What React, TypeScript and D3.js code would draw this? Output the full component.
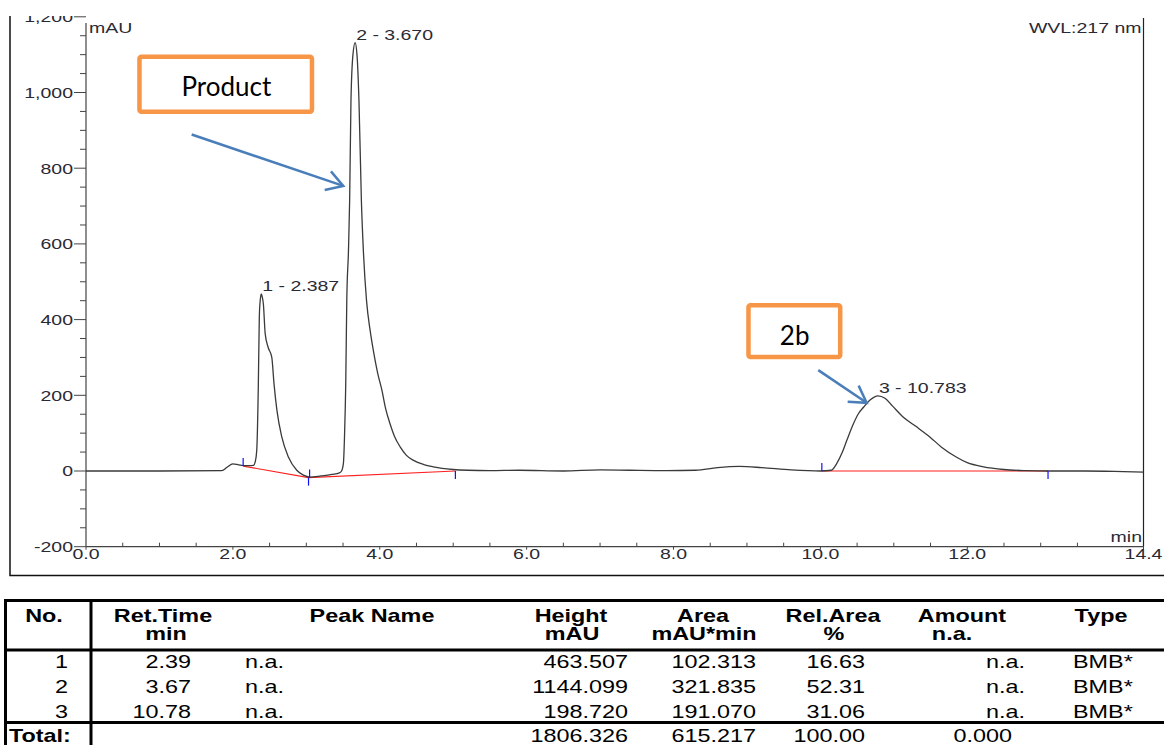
import React from "react";
import * as d3 from "d3";

// Chromatogram trace (time in min, signal in mAU)
const traceTime = [
  0, 1.0, 1.85, 1.92, 2.0, 2.08, 2.14, 2.22, 2.28, 2.305, 2.325, 2.347, 2.36, 2.372, 2.387, 2.4, 2.415,
  2.44, 2.48, 2.53, 2.56, 2.6, 2.666, 2.756, 2.87, 2.96, 3.05, 3.2, 3.35, 3.45, 3.48, 3.505, 3.52, 3.537,
  3.551, 3.574, 3.59, 3.608, 3.635, 3.665, 3.69, 3.717, 3.75, 3.777, 3.82, 3.87, 3.913, 3.97, 4.03, 4.08,
  4.14, 4.2, 4.28, 4.36, 4.46, 4.6, 4.73, 4.85, 5.0, 5.2, 5.5, 5.9, 6.5, 7.0, 7.4, 7.9, 8.3, 8.6, 8.9, 9.2,
  9.6, 10.0, 10.15, 10.22, 10.3, 10.36, 10.45, 10.52, 10.59, 10.68, 10.783, 10.88, 10.98, 11.13, 11.3,
  11.49, 11.65, 11.85, 12.0, 12.22, 12.5, 12.8, 13.1, 13.6, 14.0, 14.4,
];
const traceMAU = [
  0, 0, 1, 10, 19, 16, 14, 14, 15, 25, 55, 231, 406, 450, 468, 460, 442,
  363, 327, 300, 231, 160, 90, 37, 2, -11, -16, -13, -9, -5, 0, 20, 90, 231,
  450, 582, 714, 978, 1100, 1132, 1100, 978, 714, 582, 450, 370, 318, 260, 213, 165,
  125, 92, 63, 42, 28, 17, 11, 7, 4, 2, 1, 2, 0, 3, 2, 1, 2, 9, 12, 9,
  3, 0, 2, 19, 50, 81, 125, 152, 169, 188, 198.7, 192, 172, 142, 118,
  90, 63, 37, 22, 11, 4, 1, 0, 0, -1, -3,
];

// peak labels
const peakLabels = ["1 - 2.387", "2 - 3.670", "3 - 10.783"];
const peakTime = [2.387, 3.665, 10.783];
const peakApex = [468, 1132, 198.7];

// integration baselines (red) and delimiters (blue)
const baselineTime = [[2.14, 3.03, 5.03], [10.02, 13.1]];
const baselineMAU = [[13, -17.5, 0], [0, 0]];
const delimTime = [2.14, 3.045, 3.03, 5.03, 10.02, 13.1];
const delimMAU = [13, -17, -17.5, 0, 0, 0];
const delimDir = [-1, -1, 1, 1, -1, 1];

// axes
const yTicks = [-200, 0, 200, 400, 600, 800, 1000, 1200];
const yTickLabels = ["-200", "0", "200", "400", "600", "800", "1,000", "1,200"];
const xTicks = [0, 2, 4, 6, 8, 10, 12, 14.4];
const xTickLabels = ["0.0", "2.0", "4.0", "6.0", "8.0", "10.0", "12.0", "14.4"];

// callouts (data coordinates)
const calloutText = ["Product", "2b"];
const calloutBox = [[0.728, 1094.6, 3.077, 949.3], [9.021, 437.7, 10.27, 301.4]];
const calloutTextPos = [[1.912, 990], [9.65, 332.5]];
const calloutArrow = [[1.439, 889, 3.503, 753.3], [9.971, 266.5, 10.63, 180.1]];

// peak table
const colNo = ["1", "2", "3"];
const colRetTime = ["2.39", "3.67", "10.78"];
const colPeakName = ["n.a.", "n.a.", "n.a."];
const colHeight = ["463.507", "1144.099", "198.720"];
const colArea = ["102.313", "321.835", "191.070"];
const colRelArea = ["16.63", "52.31", "31.06"];
const colAmount = ["n.a.", "n.a.", "n.a."];
const colType = ["BMB*", "BMB*", "BMB*"];
const totalHeight = "1806.326";
const totalArea = "615.217";
const totalRelArea = "100.00";
const totalAmount = "0.000";

const ARIAL = "'Liberation Sans', Arial, sans-serif";
const CALIBRI = "Lato, 'Open Sans', sans-serif";

const ST = ({ x, y, sx = 1, anchor = "start", size, weight = "normal", fill = "#000", family = ARIAL, children }: any) => (
  <text
    transform={`translate(${x},${y}) scale(${sx},1)`}
    textAnchor={anchor}
    fontSize={size}
    fontWeight={weight}
    fontFamily={family}
    fill={fill}
  >
    {children}
  </text>
);

const App = () => {
  const width = 1164;
  const height = 745;

  const x = d3.scaleLinear().domain([0, 14.4]).range([86, 1143.5]);
  const y = d3.scaleLinear().domain([-200, 1200]).range([546.7, 16.8]);

  const line = d3
    .line<number>()
    .x((_, i) => x(traceTime[i]))
    .y((d) => y(d))
    .curve(d3.curveMonotoneX);

  const chartSX = 1.3;
  const chartFont = 15;
  const txt = "#2a2a35";

  const minorY = d3.range(-200, 1201, 50).filter((v) => v % 200 !== 0);
  const minorX = d3.range(0, 14.41, 0.5).filter((v) => v % 2 !== 0);

  // table layout
  const tFont = 18;
  const tSX = 1.3;
  const rowY = [667.5, 692.5, 717.5];
  const totalY = 742;

  const arrowHead = (x0: number, y0: number, x1: number, y1: number) => {
    const a = Math.atan2(y1 - y0, x1 - x0);
    const L = 19;
    const s = (31 * Math.PI) / 180;
    const p1 = [x1 - L * Math.cos(a - s), y1 - L * Math.sin(a - s)];
    const p2 = [x1 - L * Math.cos(a + s), y1 - L * Math.sin(a + s)];
    return `M${p1[0]},${p1[1]}L${x1},${y1}L${p2[0]},${p2[1]}`;
  };

  return (
    <svg width={width} height={height} style={{ position: "absolute", left: 0, top: 0, background: "#fff" }}>
      <rect width={width} height={height} fill="#fff" />

      {/* outer frame */}
      <path d={`M10,16V575.5H${width}`} fill="none" stroke="#111" strokeWidth={1.5} />

      {/* axes */}
      <line x1={x(0)} x2={x(0)} y1={23} y2={y(-200)} stroke="#444" strokeWidth={1.2} />
      <line x1={x(14.4)} x2={x(14.4)} y1={18} y2={y(-200)} stroke="#222" strokeWidth={1.2} />
      <line x1={x(0)} x2={x(14.4)} y1={y(-200)} y2={y(-200)} stroke="#444" strokeWidth={1.2} />

      {/* y ticks */}
      {minorY.map((v) => (
        <line key={"my" + v} x1={x(0) - 6} x2={x(0)} y1={y(v)} y2={y(v)} stroke="#444" strokeWidth={1} />
      ))}
      {yTicks.map((v, i) => (
        <g key={"y" + v}>
          <line x1={x(0) - 12} x2={x(0)} y1={y(v)} y2={y(v)} stroke="#444" strokeWidth={1} />
          <ST x={73} y={y(v) + 5.4} sx={chartSX} anchor="end" size={chartFont} fill={txt}>
            {yTickLabels[i]}
          </ST>
        </g>
      ))}

      {/* x ticks */}
      {minorX.map((v) => (
        <line key={"mx" + v} x1={x(v)} x2={x(v)} y1={y(-200) - (v === 14 ? 10 : 4)} y2={y(-200)} stroke="#444" strokeWidth={1} />
      ))}
      {xTicks.map((v, i) => (
        <g key={"x" + v}>
          <line x1={x(v)} x2={x(v)} y1={y(-200)} y2={y(-200) + 3} stroke="#444" strokeWidth={1} />
          <ST x={x(v)} y={559} sx={chartSX} anchor="middle" size={chartFont} fill={txt}>
            {xTickLabels[i]}
          </ST>
        </g>
      ))}

      <ST x={89} y={32.5} sx={chartSX} size={chartFont} fill={txt}>mAU</ST>
      <ST x={1141.5} y={32.5} sx={chartSX} anchor="end" size={chartFont} fill={txt}>WVL:217 nm</ST>
      <ST x={1142} y={541.5} sx={chartSX} anchor="end" size={chartFont} fill={txt}>min</ST>

      {/* baselines */}
      {baselineTime.map((ts, k) => (
        <path
          key={"bl" + k}
          d={ts.map((t, i) => `${i ? "L" : "M"}${x(t)},${y(baselineMAU[k][i])}`).join("")}
          fill="none"
          stroke="#ff2020"
          strokeWidth={1.2}
        />
      ))}

      {/* trace */}
      <path d={line(traceMAU) || ""} fill="none" stroke="#3a3a3a" strokeWidth={1.3} />

      {/* delimiters */}
      {delimTime.map((t, i) => (
        <line
          key={"d" + i}
          x1={x(t)}
          x2={x(t)}
          y1={y(delimMAU[i])}
          y2={y(delimMAU[i]) + delimDir[i] * 8}
          stroke="#1010ff"
          strokeWidth={1.2}
        />
      ))}

      {/* peak labels */}
      {peakLabels.map((p, i) => (
        <ST key={p} x={x(peakTime[i]) + 1} y={y(peakApex[i]) - 2.5} sx={chartSX} size={chartFont} fill={txt}>
          {p}
        </ST>
      ))}

      {/* callouts */}
      {calloutText.map((c, i) => {
        const [t0, v0, t1, v1] = calloutBox[i];
        const [a0, b0, a1, b1] = calloutArrow[i];
        return (
          <g key={c}>
            <rect
              x={x(t0)}
              y={y(v0)}
              width={x(t1) - x(t0)}
              height={y(v1) - y(v0)}
              rx={2}
              fill="#fff"
              stroke="#f79646"
              strokeWidth={4.5}
            />
            <ST x={x(calloutTextPos[i][0])} y={y(calloutTextPos[i][1])} anchor="middle" size={26} family={CALIBRI} fill="#000">
              {c}
            </ST>
            <line x1={x(a0)} y1={y(b0)} x2={x(a1)} y2={y(b1)} stroke="#4a7ebb" strokeWidth={2.5} />
            <path d={arrowHead(x(a0), y(b0), x(a1), y(b1))} fill="none" stroke="#4a7ebb" strokeWidth={2.5} />
          </g>
        );
      })}

      {/* crop of the top edge */}
      <rect x={0} y={0} width={width} height={16} fill="#fff" />

      {/* peak table */}
      <g>
        <line x1={4} x2={width} y1={600.5} y2={600.5} stroke="#000" strokeWidth={3} />
        <line x1={4} x2={width} y1={650} y2={650} stroke="#000" strokeWidth={3} />
        <line x1={4} x2={width} y1={722.5} y2={722.5} stroke="#000" strokeWidth={3} />
        <line x1={5.5} x2={5.5} y1={599} y2={height} stroke="#000" strokeWidth={3} />
        <line x1={91} x2={91} y1={599} y2={height} stroke="#000" strokeWidth={3} />

        {[
          ["No.", 44, ""],
          ["Ret.Time", 163, "min"],
          ["Peak Name", 372, ""],
          ["Height", 571, "mAU"],
          ["Area", 703, "mAU*min"],
          ["Rel.Area", 833, "%"],
          ["Amount", 962, "n.a."],
          ["Type", 1101, ""],
        ].map(([h1, cx, h2]: any) => (
          <g key={h1}>
            <ST x={cx} y={621.5} sx={tSX} anchor="middle" size={tFont} weight="bold">{h1}</ST>
            {h2 && (
              <ST x={h2 === "n.a." ? cx - 10 : cx + (h2 === "min" ? 3 : 1)} y={640} sx={tSX} anchor="middle" size={tFont} weight="bold">
                {h2}
              </ST>
            )}
          </g>
        ))}

        {colNo.map((n, i) => (
          <g key={"r" + i}>
            <ST x={68} y={rowY[i]} sx={tSX} anchor="end" size={tFont}>{n}</ST>
            <ST x={191} y={rowY[i]} sx={tSX} anchor="end" size={tFont}>{colRetTime[i]}</ST>
            <ST x={245} y={rowY[i]} sx={tSX} size={tFont}>{colPeakName[i]}</ST>
            <ST x={628} y={rowY[i]} sx={tSX} anchor="end" size={tFont}>{colHeight[i]}</ST>
            <ST x={756} y={rowY[i]} sx={tSX} anchor="end" size={tFont}>{colArea[i]}</ST>
            <ST x={865} y={rowY[i]} sx={tSX} anchor="end" size={tFont}>{colRelArea[i]}</ST>
            <ST x={1025} y={rowY[i]} sx={tSX} anchor="end" size={tFont}>{colAmount[i]}</ST>
            <ST x={1073} y={rowY[i]} sx={tSX} size={tFont}>{colType[i]}</ST>
          </g>
        ))}

        <ST x={9} y={totalY} sx={tSX} size={tFont} weight="bold">Total:</ST>
        <ST x={628} y={totalY} sx={tSX} anchor="end" size={tFont}>{totalHeight}</ST>
        <ST x={756} y={totalY} sx={tSX} anchor="end" size={tFont}>{totalArea}</ST>
        <ST x={865} y={totalY} sx={tSX} anchor="end" size={tFont}>{totalRelArea}</ST>
        <ST x={1012} y={totalY} sx={tSX} anchor="end" size={tFont}>{totalAmount}</ST>
      </g>
    </svg>
  );
};

export default App;
